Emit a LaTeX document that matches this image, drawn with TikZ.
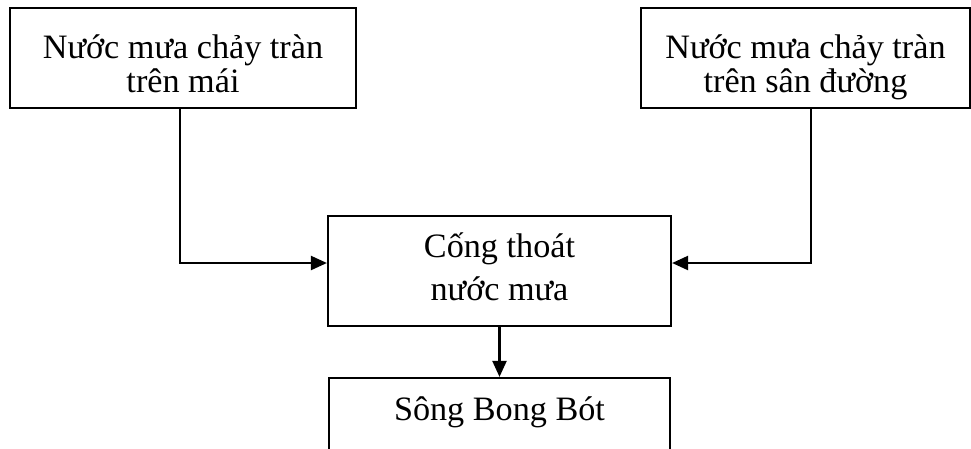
\documentclass[tikz,border=0pt]{standalone}
\usepackage{fontspec}
\setmainfont{Liberation Serif}
\usetikzlibrary{arrows.meta}
\newcommand{\topline}[1]{\rule{0pt}{#1pt}}
\newcommand{\botline}[1]{\rule[-#1pt]{0pt}{#1pt}}
\begin{document}
\begin{tikzpicture}[x=1pt,y=-1pt,
  box/.style={draw, line width=2.2pt, inner sep=0pt, align=center,
    font=\fontsize{34.2}{34}\selectfont},
  conn/.style={line width=2.2pt, -{Triangle[length=16pt,width=14pt]}}]
\useasboundingbox (0,0) rectangle (971,448);
\clip (0,0) rectangle (971,448);
\node[box, minimum width=346pt, minimum height=100pt] (tl) at (183,58)
  {\topline{46}Nước mưa chảy tràn\\trên mái\botline{12}};
\node[box, minimum width=329pt, minimum height=100pt] (tr) at (805.5,58)
  {\topline{46}Nước mưa chảy tràn\\trên sân đường\botline{12}};
\node[box, minimum width=343pt, minimum height=110pt,
  font=\fontsize{34.2}{43}\selectfont] (mid) at (499.5,271)
  {\topline{35}Cống thoát\\nước mưa\botline{20}};
\node[box, minimum width=341pt, minimum height=74pt] (river) at (499.5,415)
  {\topline{30}Sông Bong Bót\botline{20}};
\draw[conn] ([xshift=-3pt]tl.south) |- ([yshift=8pt]mid.west);
\draw[conn] ([xshift=5.5pt]tr.south) |- ([yshift=8pt]mid.east);
\draw[conn] (mid.south) -- (river.north);
\end{tikzpicture}
\end{document}
